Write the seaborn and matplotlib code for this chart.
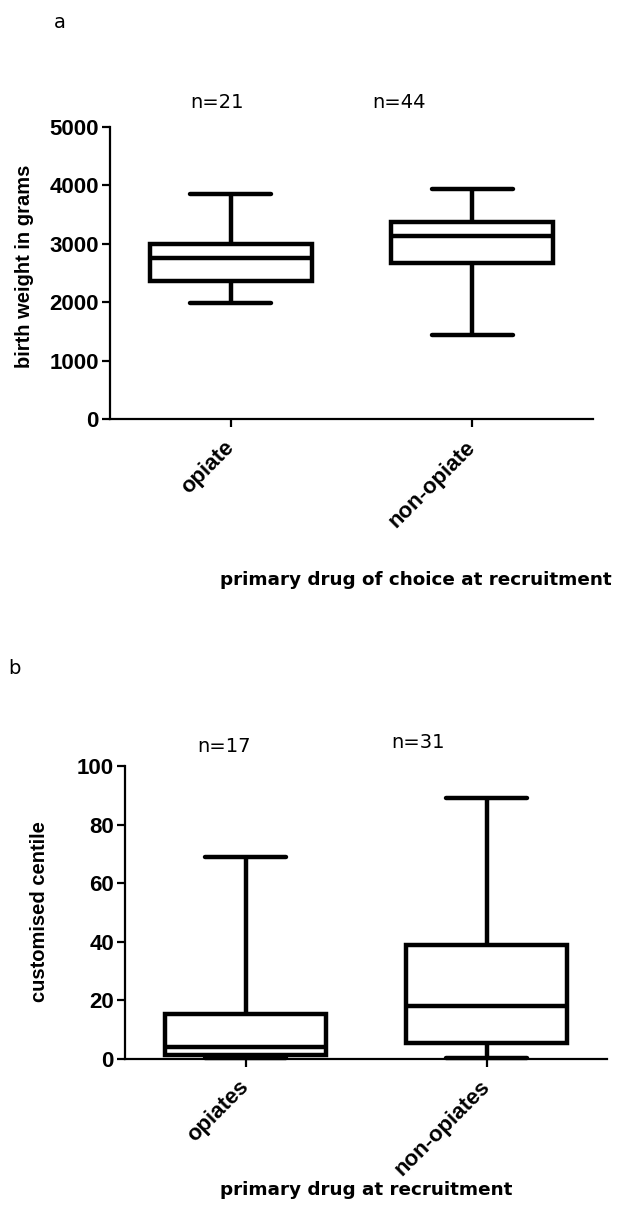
import numpy as np
import pandas as pd
import matplotlib
matplotlib.use("Agg")
import matplotlib.pyplot as plt
import seaborn as sns

# ---- data (five-number summaries: min, Q1, median, Q3, max)
groups_a = ["opiate", "non-opiate"]
opiate_bw = [1990, 2365, 2750, 2990, 3860]
nonopiate_bw = [1430, 2665, 3130, 3370, 3945]
n_a = ["n=21", "n=44"]
yticks_a = [0, 1000, 2000, 3000, 4000, 5000]

groups_b = ["opiates", "non-opiates"]
opiates_cc = [0.2, 1.3, 4.0, 15.5, 69]
nonopiates_cc = [0.2, 5.3, 18.1, 39, 89]
n_b = ["n=17", "n=31"]
yticks_b = [0, 20, 40, 60, 80, 100]

df_a = pd.DataFrame({
    "group": [groups_a[0]] * len(opiate_bw) + [groups_a[1]] * len(nonopiate_bw),
    "value": opiate_bw + nonopiate_bw,
})
df_b = pd.DataFrame({
    "group": [groups_b[0]] * len(opiates_cc) + [groups_b[1]] * len(nonopiates_cc),
    "value": opiates_cc + nonopiates_cc,
})

sns.set_style("ticks")
plt.rcParams["font.family"] = ["Liberation Sans", "DejaVu Sans"]
for k in ["text.color", "axes.labelcolor", "xtick.color", "ytick.color", "axes.edgecolor"]:
    plt.rcParams[k] = "black"

W, H = 628, 1210
fig = plt.figure(figsize=(W / 100, H / 100), dpi=100)

def px(x, y):
    return x / W, 1 - y / H

ax_a = fig.add_axes([110 / W, 1 - 419 / H, 483 / W, 292 / H])
ax_b = fig.add_axes([125 / W, 1 - 1059 / H, 482 / W, 293 / H])

for ax, df, groups, yt in [(ax_a, df_a, groups_a, yticks_a), (ax_b, df_b, groups_b, yticks_b)]:
    sns.boxplot(data=df, x="group", y="value", order=groups, whis=(0, 100),
                width=0.67, color="white", linecolor="black", linewidth=3.2,
                saturation=1, ax=ax)
    ax.set_xlim(-0.5, 1.5)
    ax.set_ylim(yt[0], yt[-1])
    ax.set_yticks(yt)
    ax.set_yticklabels([str(v) for v in yt], fontsize=16, fontweight="bold")
    ax.set_xticks(range(len(groups)))
    ax.set_xticklabels(groups, fontsize=16, fontweight="bold", rotation=45,
                       ha="right", va="center", rotation_mode="anchor")
    ax.set_xlabel("")
    ax.set_ylabel("")
    for s in ["top", "right"]:
        ax.spines[s].set_visible(False)
    for s in ["left", "bottom"]:
        ax.spines[s].set_linewidth(1.6)
        ax.spines[s].set_color("black")
    ax.tick_params(axis="both", direction="out", length=6, width=1.6, color="black")
    ax.tick_params(axis="y", pad=2)
    ax.tick_params(axis="x", pad=12)
    for art in ax.lines + ax.patches:
        art.set_clip_on(False)

# panel letters
fig.text(*px(60, 23), "a", fontsize=14, family="DejaVu Sans", ha="center", va="center")
fig.text(*px(14, 669), "b", fontsize=14, family="DejaVu Sans", ha="center", va="center")

# n labels
for xpos, lab in zip([217, 399], n_a):
    fig.text(*px(xpos, 102), lab, fontsize=14, family="DejaVu Sans", ha="center", va="center")
for xpos, ypos, lab in zip([224, 418], [747, 743], n_b):
    fig.text(*px(xpos, ypos), lab, fontsize=14,
             family="DejaVu Sans", ha="center", va="center")

# y labels
fig.text(*px(25, 266), "birth weight in grams", rotation=90, fontsize=14.5,
         fontweight="bold", ha="center", va="center")
fig.text(*px(40, 912), "customised centile", rotation=90, fontsize=14.5,
         fontweight="bold", ha="center", va="center")

# x labels
fig.text(*px(416, 580), "primary drug of choice at recruitment", fontsize=13.2,
         fontweight="bold", family="DejaVu Sans", ha="center", va="center")
fig.text(*px(366, 1190), "primary drug at recruitment", fontsize=13.2,
         fontweight="bold", family="DejaVu Sans", ha="center", va="center")

fig.savefig("out.png", dpi=100, facecolor="white")
